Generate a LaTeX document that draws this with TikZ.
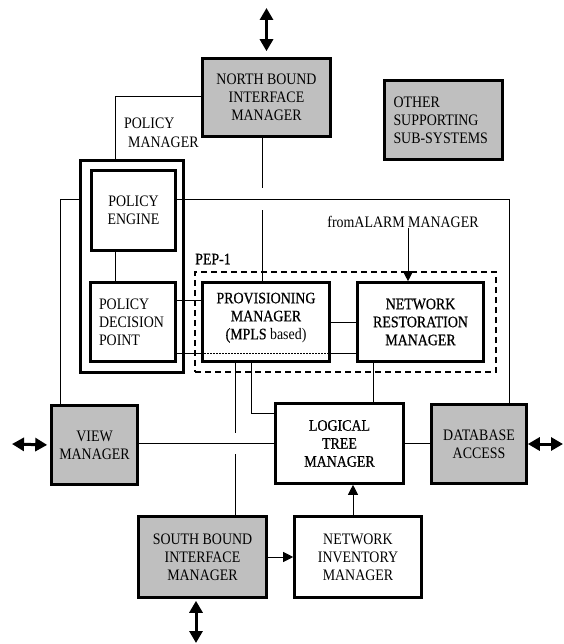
\documentclass[tikz,border=0pt]{standalone}
\usepackage{fontspec}
\setmainfont{Liberation Serif}[FakeStretch=0.87]
\newfontface\heavyserif{Liberation Serif}[FakeStretch=0.87, FakeBold=0.6]
\usetikzlibrary{arrows.meta}

\tikzset{
	boxtext/.style={font=\fontsize{16}{18}\selectfont, inner sep=0pt},
	whitebox/.style={boxtext, draw, line width=2.6pt, fill=white, align=center},
	greybox/.style={whitebox, fill=black!25},
	heavytext/.style={font=\heavyserif\fontsize{16}{18}\selectfont},
	wire/.style={line width=1pt},
	bothways/.style={line width=3pt, {Triangle[width=13pt,length=12pt]}-{Triangle[width=13pt,length=12pt]}},
	feed/.style={line width=1pt, -{Triangle[width=10pt,length=10pt]}}
}

\begin{document}
\begin{tikzpicture}[x=1pt,y=-1pt]
			%%%%% START %%%%%
			\useasboundingbox (0,0) rectangle (563,644);
			
			\coordinate (pmc) at (115,97);
			\coordinate (nbx) at (262,0);
			\coordinate (gapa) at (262,188);
			\coordinate (gapb) at (262,210);
			\coordinate (topy) at (0,200);
			\coordinate (lx) at (60,0);
			\coordinate (rx) at (509,0);
			\coordinate (upy) at (0,300);
			\coordinate (lowy) at (0,353);
			\coordinate (alx) at (408,0);
			\coordinate (cola) at (235,0);
			\coordinate (gapc) at (235,433);
			\coordinate (gapd) at (235,454);
			\coordinate (colb) at (251,0);
			\coordinate (ly) at (0,413);
			\coordinate (colc) at (373,0);
			\coordinate (midy) at (0,443);
			\coordinate (nix) at (353,0);
			
			\coordinate (nbio) at (266.5,8);
			\coordinate (vmio) at (12,444);
			\coordinate (dbio) at (563,444);
			\coordinate (sbio) at (196,643);
			
			% policy manager
			\node[boxtext, anchor=west, align=left] (pmlabel) at (124,133) {POLICY\\[1pt]\hspace{4pt}MANAGER};
			\draw[wire] (271,97) -- (pmc) -- (115,170);
			\node[whitebox, minimum width=103pt, minimum height=212pt] (pm) at (132,266.5) {};
			\node[whitebox, minimum width=84pt, minimum height=80pt] (pe) at (133.5,210.5) {POLICY\\ENGINE};
			\node[whitebox, minimum width=85pt, minimum height=79pt, text width=68pt, align=left] (pdp) at (133,322) {POLICY\\DECISION\\POINT};
			
			\node[greybox, minimum width=128pt, minimum height=78pt] (nb) at (266.5,97.5) {NORTH BOUND\\INTERFACE\\MANAGER};
			\node[greybox, minimum width=118pt, minimum height=79pt, text width=100pt, align=left] (oss) at (443.5,120) {OTHER\\SUPPORTING\\SUB-SYSTEMS};
			
			% PEP-1
			\node[draw, line width=2pt, dash pattern=on 6pt off 4pt, minimum width=301pt, minimum height=100pt] (pep) at (345.5,322) {};
			\node[boxtext, heavytext, anchor=west] (peplabel) at (195,259) {PEP-1};
			\node[whitebox, minimum width=127pt, minimum height=79pt] (prov) at (266,322) {{\heavyserif PROVISIONING}\\{\heavyserif MANAGER}\\{\heavyserif (MPLS} based)\\[-6pt]\mbox{}};
			\node[whitebox, heavytext, minimum width=126pt, minimum height=79pt] (nr) at (420.5,322) {NETWORK\\RESTORATION\\MANAGER};
			\node[boxtext] (alarm) at (403,222) {fromALARM MANAGER};
			
			\node[greybox, minimum width=86pt, minimum height=79pt] (vm) at (94.5,445) {VIEW\\MANAGER};
			\node[whitebox, heavytext, minimum width=128pt, minimum height=80pt] (lt) at (339.5,443.5) {LOGICAL\\TREE\\MANAGER};
			\node[greybox, minimum width=95pt, minimum height=79pt] (db) at (479,444) {DATABASE\\ACCESS};
			\node[greybox, minimum width=128pt, minimum height=81pt] (sb) at (202.5,557) {SOUTH BOUND\\INTERFACE\\MANAGER};
			\node[whitebox, minimum width=127pt, minimum height=81pt] (ni) at (358,557) {NETWORK\\INVENTORY\\MANAGER};
			
			% wires
			\draw[wire] (nb.south -| nbx) -- (gapa);
			\draw[wire] (gapb) -- (prov.north -| nbx);
			\draw[wire] (vm.north -| lx) |- (pm.west |- topy);
			\draw[wire] (pe.east |- topy) -| (db.north -| rx);
			\draw[wire] (pe.south -| pmc) -- (pdp.north -| pmc);
			\draw[wire] (pdp.east |- upy) -- (prov.west |- upy);
			\draw[wire] (pdp.east |- lowy) -- (prov.west |- lowy);
			\draw[wire, dash pattern=on 1.5pt off 1.5pt] (prov.west |- lowy) -- (prov.east |- lowy);
			\draw[wire] (prov.east |- lowy) -- (nr.west |- lowy);
			\draw[wire] (prov) -- (nr);
			\draw[wire] (prov.south -| cola) -- (gapc);
			\draw[wire] (gapd) -- (sb.north -| cola);
			\draw[wire] (prov.south -| colb) |- (lt.west |- ly);
			\draw[wire] (nr.south -| colc) -- (lt.north -| colc);
			\draw[wire] (vm.east |- midy) -- (lt.west |- midy);
			\draw[wire] (lt.east |- midy) -- (db.west |- midy);
			
			% arrows
			\draw[feed] (alarm.south -| alx) -- (nr.north -| alx);
			\draw[feed] (sb.east) -- (ni.west);
			\draw[feed] (ni.north -| nix) -- (lt.south -| nix);
			
			\draw[bothways, shorten >=6pt] (nbio) -- (nb.north);
			\draw[bothways, shorten >=3pt] (vmio) -- (vm.west);
			\draw[bothways] (db.east) -- (dbio);
			\draw[bothways, shorten <=2pt] (sb.south -| sbio) -- (sbio);
			
			%%%%% END %%%%%
\end{tikzpicture}
\end{document}
